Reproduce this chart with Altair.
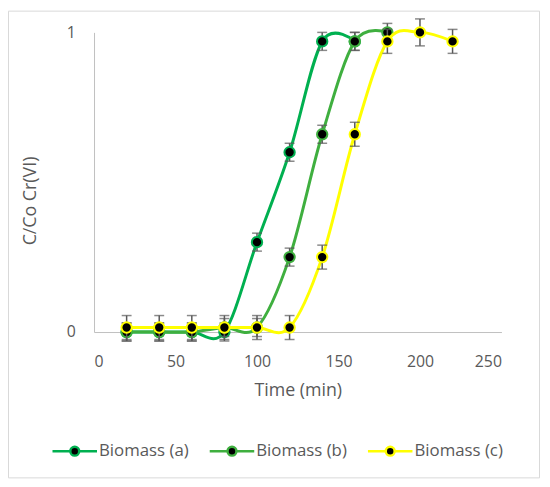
import altair as alt
import pandas as pd

series_names = ["Biomass (a)", "Biomass (b)", "Biomass (c)"]
series_colors = ["#00B050", "#3FAF3F", "#FFFF00"]

time_a = [20, 40, 60, 80, 100, 120, 140, 160]
val_a = [0.0, 0.0, 0.0, 0.0, 0.30, 0.60, 0.97, 0.97]
err_a = [0.03, 0.03, 0.03, 0.03, 0.03, 0.03, 0.03, 0.03]

time_b = [20, 40, 60, 80, 100, 120, 140, 160, 180]
val_b = [0.0, 0.0, 0.0, 0.015, 0.015, 0.25, 0.66, 0.97, 1.0]
err_b = [0.03, 0.03, 0.03, 0.03, 0.03, 0.03, 0.03, 0.03, 0.03]

time_c = [20, 40, 60, 80, 100, 120, 140, 160, 180, 200, 220]
val_c = [0.015, 0.015, 0.015, 0.015, 0.015, 0.015, 0.25, 0.66, 0.97, 1.0, 0.97]
err_c = [0.04, 0.04, 0.04, 0.04, 0.04, 0.04, 0.04, 0.04, 0.04, 0.045, 0.04]

x_ticks = [0, 50, 100, 150, 200, 250]
y_ticks = [0, 1]

rows = []
for name, ts, vs, es in zip(series_names, [time_a, time_b, time_c],
                            [val_a, val_b, val_c], [err_a, err_b, err_c]):
    for t, v, e in zip(ts, vs, es):
        rows.append({"series": name, "time": t, "value": v,
                     "lo": v - e, "hi": v + e})
df = pd.DataFrame(rows)

TXT = "#595959"
FONT = "Open Sans"

x_enc = alt.X("time:Q", scale=alt.Scale(domain=[0, 250], nice=False),
              axis=alt.Axis(values=x_ticks, title="Time (min)", labelPadding=22,
                            titleY=50, titleBaseline="top"))
y_enc = alt.Y("value:Q", scale=alt.Scale(domain=[0, 1], nice=False),
              axis=alt.Axis(values=y_ticks, format="d", title="C/Co Cr(VI)",
                            labelPadding=19,
                            titleX=-64, titleY=170, titleAngle=270,
                            titleAlign="center", titleBaseline="middle"))

color_scale = alt.Scale(domain=series_names, range=series_colors)

legend = alt.Legend(
    title=None, orient="none", direction="horizontal",
    legendX=-28, legendY=415, padding=0,
    symbolType="M-5,0L-1,0M1,0L5,0M-1,0A1,1,0,1,0,1,0A1,1,0,1,0,-1,0Z",
    symbolSize=81, symbolStrokeWidth=2.5, symbolFillColor="black",
    symbolOpacity=1,
    labelOffset=16, columnPadding=16, labelFontSize=17,
    labelColor=TXT, labelFont=FONT,
)

frame = alt.Chart(pd.DataFrame({"f": [0]})).mark_rect(
    fillOpacity=0, stroke="#D9D9D9", strokeWidth=1
).encode(x=alt.value(-86.5), x2=alt.value(450.5),
         y=alt.value(-21.5), y2=alt.value(450.5))

layers = [frame]
base = alt.Chart(df)
for name in series_names:
    sel = base.transform_filter(alt.datum.series == name)
    line = sel.mark_line(interpolate="cardinal", tension=0, strokeWidth=3).encode(
        x=x_enc, y=y_enc,
        stroke=alt.Stroke("series:N", scale=color_scale, legend=legend))
    rule = sel.mark_rule(color="#595959", strokeWidth=1.5).encode(
        x=x_enc, y=alt.Y("lo:Q"), y2="hi:Q")
    cap_hi = sel.mark_tick(orient="horizontal", size=10, thickness=1.5,
                           color="#595959").encode(x=x_enc, y=alt.Y("hi:Q"))
    cap_lo = sel.mark_tick(orient="horizontal", size=10, thickness=1.5,
                           color="#595959").encode(x=x_enc, y=alt.Y("lo:Q"))
    pts = sel.mark_point(shape="circle", filled=False, size=110, strokeWidth=2,
                         opacity=1).encode(
        x=x_enc, y=y_enc,
        fill=alt.value("black"),
        stroke=alt.Stroke("series:N", scale=color_scale, legend=legend))
    layers += [line, rule, cap_hi, cap_lo, pts]

chart = alt.layer(*layers).properties(
    width=412, height=303,
    padding={"left": 87, "top": 22, "right": 41, "bottom": 149},
    autosize=alt.AutoSizeParams(type="none"),
).configure_view(stroke=None).configure_axis(
    grid=False, ticks=False, domainColor="#BFBFBF", domainWidth=1,
    labelColor=TXT, labelFont=FONT, labelFontSize=16,
    titleColor=TXT, titleFont=FONT, titleFontSize=18, titleFontWeight="normal",
)

chart.save("out.html", embed_options={"renderer": "svg", "actions": False})
